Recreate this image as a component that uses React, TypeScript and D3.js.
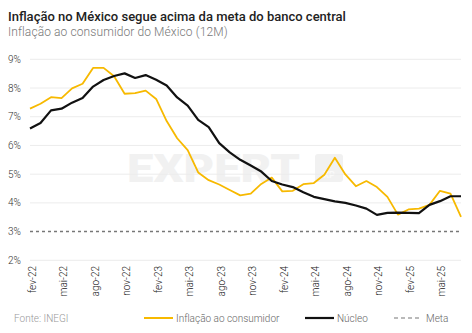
import React from "react";
import * as d3 from "d3";

const months = [
  "fev-22","mar-22","abr-22","mai-22","jun-22","jul-22","ago-22","set-22","out-22","nov-22","dez-22",
  "jan-23","fev-23","mar-23","abr-23","mai-23","jun-23","jul-23","ago-23","set-23","out-23","nov-23","dez-23",
  "jan-24","fev-24","mar-24","abr-24","mai-24","jun-24","jul-24","ago-24","set-24","out-24","nov-24","dez-24",
  "jan-25","fev-25","mar-25","abr-25","mai-25","jun-25","jul-25",
];

const inflacao = [
  7.28, 7.45, 7.68, 7.65, 7.99, 8.15, 8.70, 8.70, 8.41, 7.80, 7.82,
  7.91, 7.62, 6.85, 6.25, 5.84, 5.06, 4.79, 4.64, 4.45, 4.26, 4.32, 4.66,
  4.88, 4.40, 4.42, 4.65, 4.69, 4.98, 5.57, 4.99, 4.58, 4.76, 4.55, 4.21,
  3.59, 3.77, 3.80, 3.93, 4.42, 4.32, 3.51,
];

const nucleo = [
  6.59, 6.78, 7.22, 7.28, 7.49, 7.65, 8.05, 8.28, 8.42, 8.51, 8.35,
  8.45, 8.29, 8.09, 7.67, 7.39, 6.89, 6.64, 6.08, 5.76, 5.50, 5.30, 5.09,
  4.76, 4.64, 4.55, 4.37, 4.21, 4.13, 4.05, 4.00, 3.91, 3.80, 3.58, 3.65,
  3.66, 3.65, 3.64, 3.93, 4.06, 4.23, 4.23,
];

const meta = 3;
const yTicks = [2, 3, 4, 5, 6, 7, 8, 9];
const xTickLabels = ["fev-22","mai-22","ago-22","nov-22","fev-23","mai-23","ago-23","nov-23","fev-24","mai-24","ago-24","nov-24","fev-25","mai-25"];

const title = "Inflação no México segue acima da meta do banco central";
const subtitle = "Inflação ao consumidor do México (12M)";
const source = "Fonte: INEGI";
const legendLabels = ["Inflação ao consumidor", "Núcleo", "Meta"];

const YELLOW = "#F7B900";
const FONT = "Roboto, 'Noto Sans', sans-serif";

export default function App() {
  const W = 472, H = 333;
  const x = d3.scalePoint<number>().domain(months.map((_, i) => i)).range([30, 461]);
  const y = d3.scaleLinear().domain([2, 9]).range([260.3, 59.3]);
  const line = d3.line<number>().x((_, i) => x(i)!).y((d) => y(d));

  return (
    <svg width={W} height={H} style={{ position: "absolute", left: 0, top: 0, background: "#fff" }} fontFamily={FONT}>
      <rect x={0} y={0} width={W} height={H} fill="#fff" />
      <text x={8} y={20.5} fontSize={13} fontWeight={500} fill="#222">{title}</text>
      <text x={8} y={36} fontSize={12} fontWeight={300} fill="#777" letterSpacing={0.1}>{subtitle}</text>

      {/* watermark */}
      <g>
        <text x={127} y={182} fontSize={38} fontWeight={900} fill="#f1f1f1" textLength={173} lengthAdjust="spacingAndGlyphs">EXPERT</text>
        <rect x={315} y={154} width={28} height={28} rx={3} fill="#f1f1f1" />
        <text x={329} y={178} fontSize={9} fontWeight={700} fill="#fafafa" textAnchor="middle">XP</text>
      </g>

      {yTicks.filter((t) => t !== meta).map((t) => (
        <line key={t} x1={30} x2={461} y1={y(t)} y2={y(t)} stroke="#ececec" strokeWidth={1} />
      ))}
      {yTicks.map((t) => (
        <text key={"l" + t} x={21} y={y(t) + 3.5} fontSize={10} fontWeight={300} fill="#333" textAnchor="end">{t}%</text>
      ))}
      <line x1={30} x2={461} y1={y(meta)} y2={y(meta)} stroke="#777" strokeWidth={1.5} strokeDasharray="3,3" />

      <path d={line(inflacao) || ""} fill="none" stroke={YELLOW} strokeWidth={1.8} strokeLinejoin="round" />
      <path d={line(nucleo) || ""} fill="none" stroke="#111" strokeWidth={2.2} strokeLinejoin="round" />

      {xTickLabels.map((lab) => {
        const i = months.indexOf(lab);
        return (
          <text key={lab} transform={`translate(${x(i)! + 5.5},266) rotate(-90)`} fontSize={10} fontWeight={300} fill="#222" textAnchor="end">{lab}</text>
        );
      })}

      <text x={14} y={322} fontSize={10} fontWeight={300} fill="#999">{source}</text>
      <line x1={144} x2={173} y1={318} y2={318} stroke={YELLOW} strokeWidth={2} />
      <text x={176} y={322} fontSize={10} fontWeight={300} fill="#666">{legendLabels[0]}</text>
      <line x1={305} x2={334} y1={318} y2={318} stroke="#111" strokeWidth={2.2} />
      <text x={337} y={322} fontSize={10} fontWeight={300} fill="#666">{legendLabels[1]}</text>
      <line x1={394} x2={422} y1={318} y2={318} stroke="#777" strokeWidth={1.2} strokeDasharray="4,3" />
      <text x={426} y={322} fontSize={10} fontWeight={300} fill="#666">{legendLabels[2]}</text>
    </svg>
  );
}
